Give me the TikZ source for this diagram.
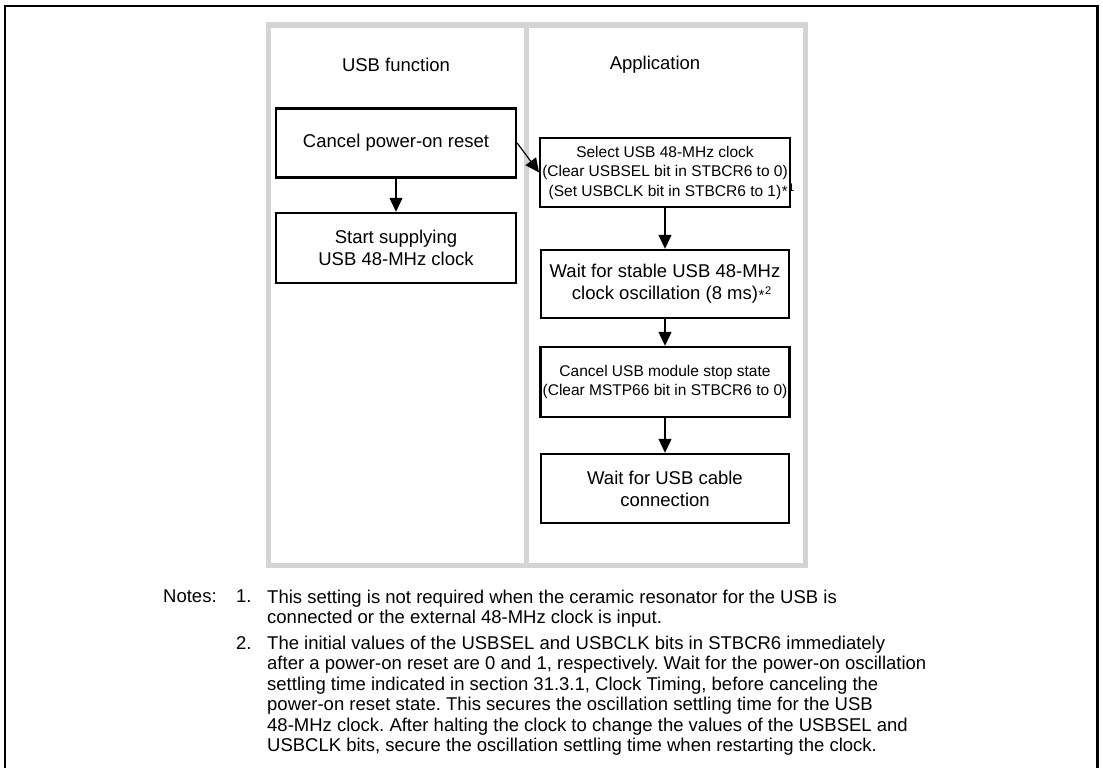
\documentclass[tikz,border=0pt]{standalone}
\usepackage{fontspec}
\setmainfont{Liberation Sans}
\usetikzlibrary{arrows.meta}
\definecolor{lanegray}{RGB}{211,212,214}
\newcommand{\noteref}[1]{\rlap{\kern0.5pt\raisebox{-0.5pt}{\fontsize{15}{15}\selectfont *}\kern0.8pt\raisebox{5pt}{\fontsize{11}{11}\selectfont #1}}}
\frenchspacing

\begin{document}
\begin{tikzpicture}[x=1pt,y=-1pt,>={Triangle[length=14pt,width=13pt]},
  stepbox/.style={draw,line width=2.4pt,minimum height=69pt,align=center,inner sep=2pt},
  bigtxt/.style={font=\fontsize{18.5}{22}\selectfont},
  smalltxt/.style={font=\fontsize{15.5}{19.5}\selectfont},
  flow/.style={->,line width=1.2pt},
  notetxt/.style={font=\fontsize{18.5}{20.5}\selectfont,inner sep=0pt,align=left,anchor=north west}]
 \useasboundingbox (0,0) rectangle (1103,768);
 \draw[line width=2.5pt] (5,768) |- (1097.5,6) -- (1097.5,768);
 \draw[lanegray,line width=5.5pt] (268.5,25) rectangle (805.5,565.5);
 \draw[lanegray,line width=5.5pt] (526.5,25) -- (526.5,565.5);
 \node[bigtxt] (usbhead) at (396,65) {USB function};
 \node[bigtxt] (apphead) at (655,65) {Application};
 \node[stepbox,bigtxt,minimum width=240pt] (cancelrst) at (396,143) {Cancel power-on reset};
 \node[stepbox,bigtxt,minimum width=240pt,minimum height=70pt] (supplyclk) at (396,248) {Start supplying\\USB 48-MHz clock};
 \node[stepbox,smalltxt,minimum width=248pt] (selclk) at (665,172.5) {Select USB 48-MHz clock\\(Clear USBSEL bit in STBCR6 to 0)\\(Set USBCLK bit in STBCR6 to 1)\noteref{1}};
 \node[stepbox,bigtxt,minimum width=248pt,minimum height=68pt] (waitosc) at (665,284) {Wait for stable USB 48-MHz\\clock oscillation (8 ms)\noteref{2}};
 \node[stepbox,smalltxt,minimum width=248pt,minimum height=70pt] (stopstate) at (665,382) {Cancel USB module stop state\\(Clear MSTP66 bit in STBCR6 to 0)};
 \node[stepbox,bigtxt,minimum width=248pt] (cablewait) at (665,488.5) {Wait for USB cable\\connection};
 \draw[flow] (cancelrst.south) -- (supplyclk.north);
 \draw[flow] (cancelrst.east) -- (selclk.west);
 \draw[flow] (selclk.south) -- (waitosc.north);
 \draw[flow] (waitosc.south) -- (stopstate.north);
 \draw[flow] (stopstate.south) -- (cablewait.north);
 \node[notetxt] (notehead) at (163,589.5) {Notes:};
 \node[notetxt] (num1) at (236,590) {1.};
 \node[notetxt] (note1) at (267,589.5) {This setting is not required when the ceramic resonator for the USB is\\connected or the external 48-MHz clock is input.};
 \node[notetxt] (num2) at (236,636) {2.};
 \node[notetxt] (note2) at (267,635.5) {The initial values of the USBSEL and USBCLK bits in STBCR6 immediately\\after a power-on reset are 0 and 1, respectively. Wait for the power-on oscillation\\settling time indicated in section 31.3.1, Clock Timing, before canceling the\\power-on reset state. This secures the oscillation settling time for the USB\\48-MHz clock. After halting the clock to change the values of the USBSEL and\\USBCLK bits, secure the oscillation settling time when restarting the clock.};
\end{tikzpicture}
\end{document}
